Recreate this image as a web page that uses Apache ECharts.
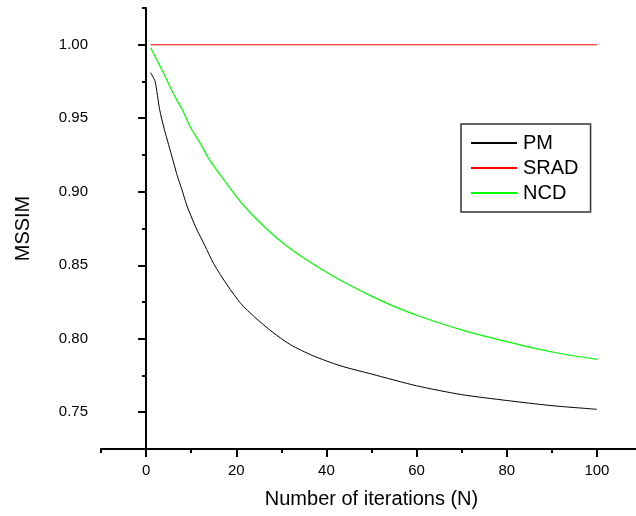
<!DOCTYPE html>
<html>
<head>
<meta charset="utf-8">
<script src="https://cdn.jsdelivr.net/npm/echarts@6/dist/echarts.min.js"></script>
<style>
  html, body { margin: 0; padding: 0; background: #fff; }
  #chart { width: 636px; height: 516px; }
</style>
</head>
<body>
<div id="chart"></div>
<script>
// MSSIM versus number of diffusion iterations for three filters
const pmIterations = [1, 2, 3, 4, 5, 6, 7, 8, 9, 11, 13, 15, 18, 21, 24, 28, 32, 37, 43, 50, 60, 70, 80, 90, 100];
const pmValues = [0.981, 0.975, 0.956, 0.943, 0.932, 0.921, 0.910, 0.901, 0.891, 0.876, 0.8636, 0.851, 0.8365, 0.824, 0.815, 0.8046, 0.796, 0.7885, 0.7817, 0.776, 0.768, 0.762, 0.758, 0.7545, 0.752];

const sradIterations = [1, 100];
const sradValues = [1.0, 1.0];

const ncdIterations = [1, 4, 6, 8, 10, 12, 14, 18, 21, 24, 27, 30, 33, 38, 43, 50, 55, 60, 70, 80, 90, 100];
const ncdValues = [0.998, 0.980, 0.967, 0.956, 0.943, 0.933, 0.922, 0.905, 0.893, 0.883, 0.874, 0.866, 0.859, 0.849, 0.840, 0.829, 0.822, 0.816, 0.806, 0.798, 0.791, 0.786];

const xMinorTicks = [-10, 0, 10, 20, 30, 40, 50, 60, 70, 80, 90, 100, 110];
const xMajorTicks = [0, 20, 40, 60, 80, 100];
const yMinorTicks = [0.725, 0.75, 0.775, 0.8, 0.825, 0.85, 0.875, 0.9, 0.925, 0.95, 0.975, 1.0, 1.025];
const yMajorTicks = [0.75, 0.8, 0.85, 0.9, 0.95, 1.0];

const pairs = (xs, ys) => xs.map((x, i) => [x, ys[i]]);

const font = 'Liberation Sans, Arial, Helvetica, sans-serif';
const axisLine = { show: true, lineStyle: { color: '#000', width: 2 } };

const chart = echarts.init(document.getElementById('chart'), null, { renderer: 'canvas' });
chart.setOption({
  animation: false,
  backgroundColor: '#fff',
  grid: { left: 101, top: 8, right: -6, bottom: 67, outerBoundsMode: 'none', containLabel: false },
  legend: {
    show: true,
    left: 461, top: 124,
    orient: 'vertical',
    padding: [9, 12, 9, 10],
    itemGap: 5,
    itemWidth: 46, itemHeight: 2,
    borderColor: '#333', borderWidth: 1.5,
    icon: 'rect',
    textStyle: { fontFamily: font, fontSize: 20, lineHeight: 20, color: '#000', padding: [0, 0, 0, 1] },
    data: ['PM', 'SRAD', 'NCD']
  },
  xAxis: [
    {
      type: 'value', min: -10, max: 110,
      name: 'Number of iterations (N)', nameLocation: 'middle', nameGap: 40,
      nameTextStyle: { fontFamily: font, fontSize: 20, color: '#000' },
      axisLine: axisLine,
      axisTick: { show: true, length: 4, inside: false, customValues: xMinorTicks, lineStyle: { color: '#000', width: 2 } },
      axisLabel: { show: true, customValues: xMajorTicks, margin: 14, fontFamily: font, fontSize: 15, color: '#000' },
      splitLine: { show: false }
    },
    {
      type: 'value', min: -10, max: 110, position: 'bottom',
      axisLine: { show: false },
      axisTick: { show: true, length: 8, customValues: xMajorTicks, lineStyle: { color: '#000', width: 2 } },
      axisLabel: { show: false },
      splitLine: { show: false }
    }
  ],
  yAxis: [
    {
      type: 'value', min: 0.725, max: 1.025,
      name: 'MSSIM', nameLocation: 'middle', nameGap: 68, nameRotate: 90,
      nameTextStyle: { fontFamily: font, fontSize: 20, color: '#000' },
      axisLine: axisLine,
      axisTick: { show: true, length: 4, customValues: yMinorTicks, lineStyle: { color: '#000', width: 2 } },
      axisLabel: {
        show: true, customValues: yMajorTicks, margin: 13,
        fontFamily: font, fontSize: 15, color: '#000',
        formatter: v => v.toFixed(2)
      },
      splitLine: { show: false }
    },
    {
      type: 'value', min: 0.725, max: 1.025, position: 'left',
      axisLine: { show: false },
      axisTick: { show: true, length: 8, customValues: yMajorTicks, lineStyle: { color: '#000', width: 2 } },
      axisLabel: { show: false },
      splitLine: { show: false }
    }
  ],
  series: [
    {
      name: 'PM', type: 'line', data: pairs(pmIterations, pmValues),
      smooth: 0.25, showSymbol: false,
      color: '#000', lineStyle: { color: '#000', width: 1 }
    },
    {
      name: 'SRAD', type: 'line', data: pairs(sradIterations, sradValues),
      showSymbol: false,
      color: '#ff0000', lineStyle: { color: '#ff0000', width: 1.2 }
    },
    {
      name: 'NCD', type: 'line', data: pairs(ncdIterations, ncdValues),
      smooth: 0.25, showSymbol: false,
      color: '#00ff00', lineStyle: { color: '#00ff00', width: 1.2 }
    }
  ]
});
</script>
</body>
</html>
